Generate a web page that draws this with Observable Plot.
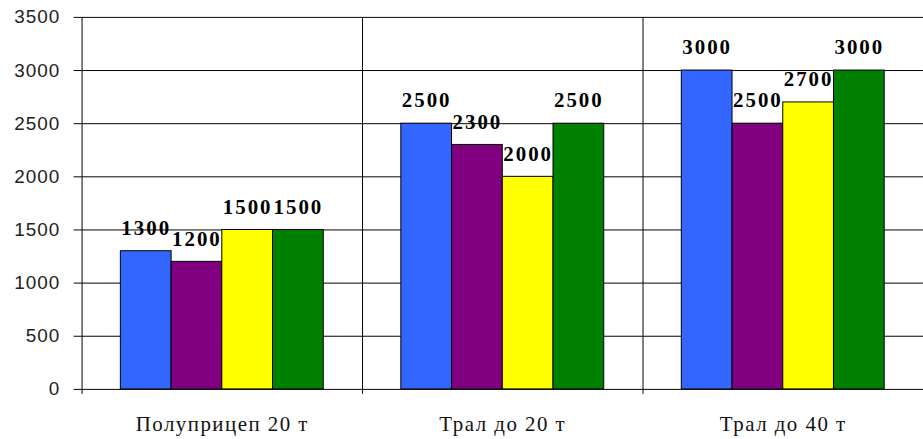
<!DOCTYPE html>
<html>
<head>
<meta charset="utf-8">
<script src="https://cdn.jsdelivr.net/npm/d3@7"></script>
<script src="https://cdn.jsdelivr.net/npm/@observablehq/plot@0.6"></script>
<style>
  html, body { margin: 0; padding: 0; background: #fff; overflow: hidden; }
  #chart svg { display: block; }
  #chart g[aria-label="y-axis tick label"] text { letter-spacing: 1px; }
  #chart g[aria-label="fx-axis tick label"] text { letter-spacing: 1.5px; }
  #chart g[aria-label="text"] text { letter-spacing: 2px; }
</style>
</head>
<body>
<div id="chart"></div>
<script>
// Transport categories and four series of prices
const categories = ["Полуприцеп 20 т", "Трал до 20 т", "Трал до 40 т"];
const series = ["s1", "s2", "s3", "s4"];
const s1 = [1300, 2500, 3000];
const s2 = [1200, 2300, 2500];
const s3 = [1500, 2000, 2700];
const s4 = [1500, 2500, 3000];
const colors = ["#3366ff", "#800080", "#ffff00", "#008000"];
const yTicks = [0, 500, 1000, 1500, 2000, 2500, 3000, 3500];

const seriesValues = [s1, s2, s3, s4];
const rows = [];
categories.forEach((c, i) => {
  series.forEach((s, j) => rows.push({category: c, series: s, value: seriesValues[j][i]}));
});

const chart = Plot.plot({
  width: 928,
  height: 439,
  marginLeft: 82,
  marginRight: 0,
  marginTop: 17,
  marginBottom: 48,
  style: {background: "#fff"},
  fx: {domain: categories, padding: 0, label: null},
  x: {domain: series, paddingInner: 0, paddingOuter: 0.738, axis: null},
  y: {domain: [0, 3500], ticks: yTicks, label: null},
  color: {domain: series, range: colors},
  marks: [
    Plot.gridY(yTicks, {stroke: "#000", strokeOpacity: 1, strokeWidth: 1}),
    // group separators and the value axis line, running a little below zero
    Plot.frame({anchor: "left", stroke: "#000", strokeWidth: 1, insetBottom: -4}),
    Plot.barY(rows, {fx: "category", x: "series", y: "value", fill: "series", stroke: "#000", strokeWidth: 1}),
    Plot.text(rows, {
      fx: "category", x: "series", y: "value", text: d => String(d.value),
      dy: -23, fill: "#000",
      fontFamily: "Liberation Serif", fontWeight: "bold", fontSize: 21
    }),
    Plot.axisY(yTicks, {
      anchor: "left", tickSize: 8, tickPadding: 14, tickFormat: d => String(d), label: null,
      fontFamily: "Liberation Sans", fontSize: 19, fill: "#222", stroke: "#000"
    }),
    Plot.axisFx({
      anchor: "bottom", tickSize: 0, tickPadding: 27, label: null,
      fontFamily: "Liberation Serif", fontSize: 21, fill: "#111"
    })
  ]
});

document.getElementById("chart").appendChild(chart);
</script>
</body>
</html>
